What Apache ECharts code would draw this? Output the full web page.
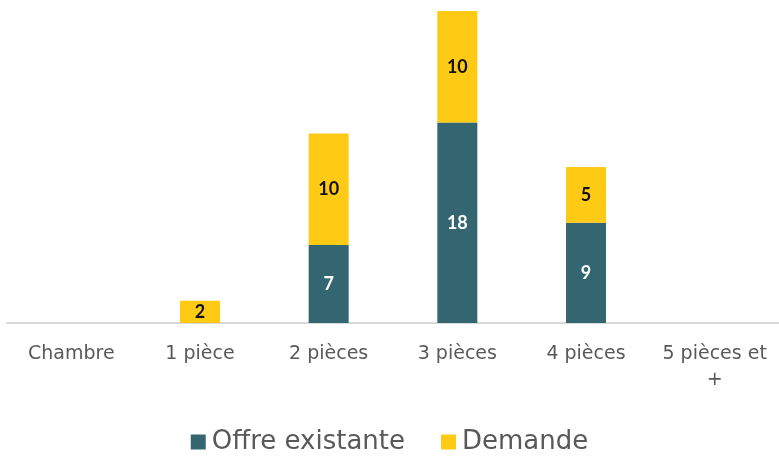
<!DOCTYPE html>
<html>
<head>
<meta charset="utf-8">
<script src="https://cdn.jsdelivr.net/npm/echarts@6/dist/echarts.min.js"></script>
<style>
  html, body { margin: 0; padding: 0; background: #fff; }
  #chart { width: 779px; height: 461px; }
</style>
</head>
<body>
<div id="chart"></div>
<script>
  // catégories et valeurs
  const categories = ['Chambre', '1 pièce', '2 pièces', '3 pièces', '4 pièces', '5 pièces et\n+'];
  const offreExistante = [0, 0, 7, 18, 9, 0];
  const demande = [0, 2, 10, 10, 5, 0];

  const chart = echarts.init(document.getElementById('chart'));

  const hideZero = (p) => (p.value ? p.value : '');

  const option = {
    animation: false,
    textStyle: { fontFamily: '"DejaVu Sans", sans-serif' },
    grid: {
      left: 7,
      top: 11,
      width: 774,
      height: 312
    },
    legend: {
      bottom: 1,
      left: 'center',
      itemWidth: 15,
      itemHeight: 15,
      itemGap: 36,
      icon: 'rect',
      textStyle: {
        fontSize: 26,
        color: '#595959',
        fontFamily: '"DejaVu Sans", sans-serif',
        padding: [0, 0, 0, 1]
      },
      data: ['Offre existante', 'Demande']
    },
    xAxis: {
      type: 'category',
      data: categories,
      axisLine: { lineStyle: { color: '#d9d9d9', width: 2 } },
      axisTick: { show: false },
      axisLabel: {
        interval: 0,
        color: '#595959',
        fontSize: 19,
        margin: 18,
        lineHeight: 26,
        fontFamily: '"DejaVu Sans", sans-serif'
      }
    },
    yAxis: {
      type: 'value',
      min: 0,
      max: 28,
      show: false,
      splitLine: { show: false }
    },
    series: [
      {
        name: 'Offre existante',
        type: 'bar',
        stack: 'total',
        barWidth: 40,
        data: offreExistante,
        itemStyle: { color: '#346672' },
        label: {
          show: true,
          position: 'inside',
          color: '#ffffff',
          fontSize: 18,
          fontWeight: 'bold',
          fontFamily: 'Lato, sans-serif',
          formatter: hideZero
        }
      },
      {
        name: 'Demande',
        type: 'bar',
        stack: 'total',
        barWidth: 40,
        data: demande,
        itemStyle: { color: '#ffca14' },
        label: {
          show: true,
          position: 'inside',
          color: '#111111',
          fontSize: 18,
          fontWeight: 'bold',
          fontFamily: 'Lato, sans-serif',
          formatter: hideZero
        }
      }
    ]
  };

  chart.setOption(option);
</script>
</body>
</html>
